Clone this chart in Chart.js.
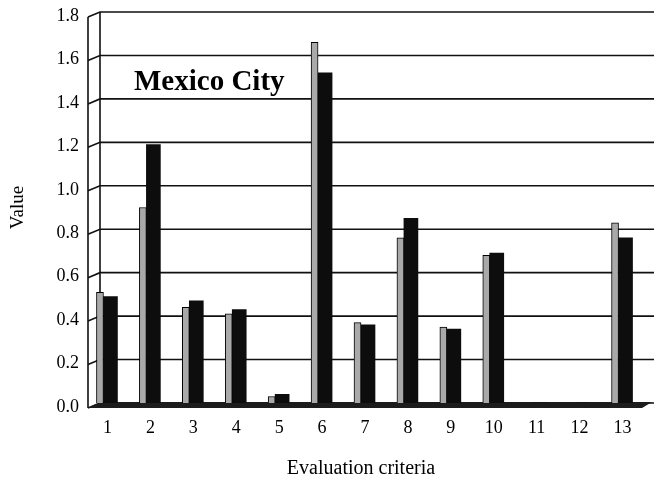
<!DOCTYPE html>
<html>
<head>
<meta charset="utf-8">
<script src="https://cdn.jsdelivr.net/npm/chart.js@4/dist/chart.umd.min.js"></script>
<style>
  html, body { margin: 0; padding: 0; background: #fff; }
  #wrap { width: 654px; height: 481px; position: relative; }
</style>
</head>
<body>
<div id="wrap"><canvas id="c" width="654" height="481"></canvas></div>
<script>
// ---- data ----
const categories = ['1','2','3','4','5','6','7','8','9','10','11','12','13'];
const seriesGray  = [0.51, 0.90, 0.44, 0.41, 0.03, 1.66, 0.37, 0.76, 0.35, 0.68, 0, 0, 0.83];
const seriesBlack = [0.49, 1.19, 0.47, 0.43, 0.04, 1.52, 0.36, 0.85, 0.34, 0.69, 0, 0, 0.76];
const yMin = 0, yMax = 1.8, yStep = 0.2;
const chartTitle = 'Mexico City';
const xTitle = 'Evaluation criteria';
const yTitle = 'Value';

const SERIF = "'Liberation Serif', 'Times New Roman', serif";

const wallPlugin = {
  id: 'walls3d',
  beforeDatasetsDraw(chart) {
    const { ctx, chartArea: a, scales: { y } } = chart;
    const fx = a.left + 6, bx = a.left + 18, dy = 5;
    const y0 = y.getPixelForValue(yMin), yTop = y.getPixelForValue(yMax);
    ctx.save();
    ctx.strokeStyle = '#111';
    ctx.lineWidth = 1.6;
    // gridlines on back wall with diagonal to front edge
    y.ticks.forEach(t => {
      const py = y.getPixelForValue(t.value);
      ctx.beginPath();
      ctx.moveTo(fx, py + dy);
      ctx.lineTo(bx, py);
      ctx.lineTo(chart.width, py);
      ctx.stroke();
    });
    // left wall edges
    ctx.beginPath();
    ctx.moveTo(fx, yTop + dy); ctx.lineTo(fx, y0 + dy);
    ctx.moveTo(bx, yTop); ctx.lineTo(bx, y0);
    ctx.stroke();
    // floor
    ctx.fillStyle = '#1c1c1c';
    ctx.beginPath();
    ctx.moveTo(fx, y0 + dy);
    ctx.lineTo(a.right + 2, y0 + dy);
    ctx.lineTo(chart.width - 2, y0 - 1);
    ctx.lineTo(bx, y0 - 1);
    ctx.closePath();
    ctx.fill();
    // chart title inside plot
    ctx.fillStyle = '#000';
    ctx.font = "bold 29px " + SERIF;
    ctx.textAlign = 'left';
    ctx.textBaseline = 'alphabetic';
    ctx.fillText(chartTitle, a.left + 52, y.getPixelForValue(1.44));
    ctx.restore();
  }
};

new Chart(document.getElementById('c'), {
  type: 'bar',
  data: {
    labels: categories,
    datasets: [
      { label: 'A', data: seriesGray, backgroundColor: '#a9a9a9', borderColor: '#000', borderWidth: 1, barThickness: 7 },
      { label: 'B', data: seriesBlack, backgroundColor: '#0d0d0d', borderColor: '#000', borderWidth: 0, barThickness: 14 }
    ]
  },
  options: {
    responsive: false,
    animation: false,
    layout: { padding: { top: 12, right: 14, left: 0, bottom: 0 } },
    plugins: { legend: { display: false }, tooltip: { enabled: false }, title: { display: false } },
    scales: {
      x: {
        grid: { display: false, drawTicks: false },
        border: { display: false },
        ticks: { color: '#000', font: { family: SERIF, size: 18 }, padding: 14, labelOffset: 4, maxRotation: 0 },
        title: { display: true, text: xTitle, color: '#000', font: { family: SERIF, size: 20 }, padding: { top: 0, bottom: 0 } },
        afterFit(s) { s.height = 78; }
      },
      y: {
        min: yMin, max: yMax,
        grid: { display: false, drawTicks: false },
        border: { display: false },
        ticks: { stepSize: yStep, color: '#000', font: { family: SERIF, size: 18 }, padding: 3, labelOffset: 4,
                 callback: v => Number(v).toFixed(1) },
        title: { display: true, text: yTitle, color: '#000', font: { family: SERIF, size: 19 }, padding: { top: 7, bottom: 0 } },
        afterFit(s) { s.width = 82; s.paddingTop = 0; s.paddingBottom = 0; }
      }
    }
  },
  plugins: [wallPlugin]
});
</script>
</body>
</html>
